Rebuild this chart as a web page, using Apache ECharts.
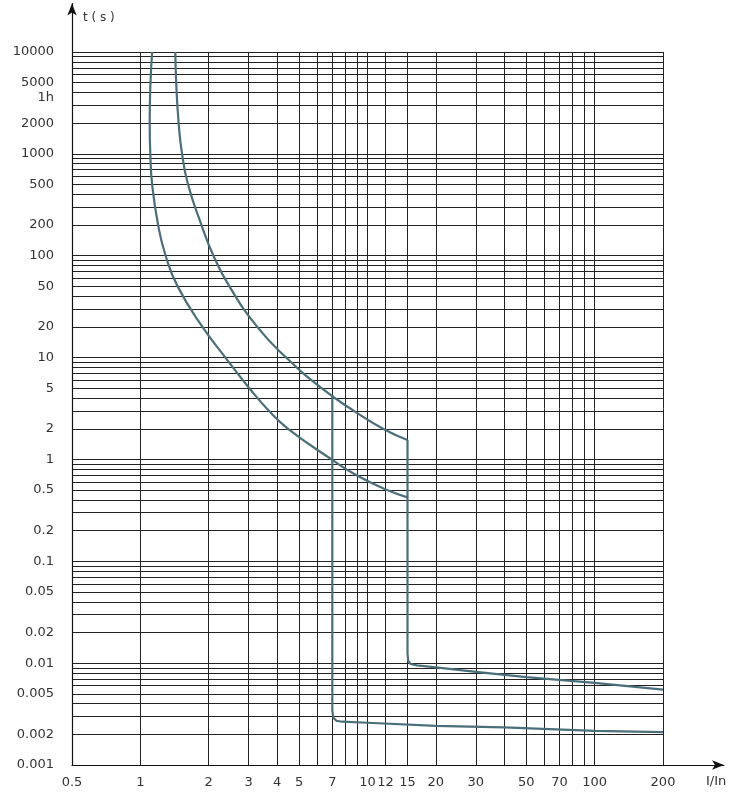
<!DOCTYPE html>
<html>
<head>
<meta charset="utf-8">
<style>
html,body{margin:0;padding:0;background:#fff;}
#chart{width:729px;height:794px;}
</style>
<script src="https://cdn.jsdelivr.net/npm/echarts@6/dist/echarts.min.js"></script>
</head>
<body>
<div id="chart"></div>
<script>
// ---- tick labels and grid positions ----
const xTickLabels = [0.5, 1, 2, 3, 4, 5, 7, 10, 12, 15, 20, 30, 50, 70, 100, 200];
const xGridValues = [0.5, 1, 2, 3, 4, 5, 6, 7, 8, 9, 10, 12, 15, 20, 30, 40, 50, 60, 70, 80, 90, 100, 200];
const yTickLabels = [10000, 5000, 3600, 2000, 1000, 500, 200, 100, 50, 20, 10, 5, 2, 1,
  0.5, 0.2, 0.1, 0.05, 0.02, 0.01, 0.005, 0.002, 0.001];
const yGridValues = [
  0.001, 0.002, 0.003, 0.004, 0.005, 0.006, 0.007, 0.008, 0.009,
  0.01, 0.02, 0.03, 0.04, 0.05, 0.06, 0.07, 0.08, 0.09,
  0.1, 0.2, 0.3, 0.4, 0.5, 0.6, 0.7, 0.8, 0.9,
  1, 2, 3, 4, 5, 6, 7, 8, 9,
  10, 20, 30, 40, 50, 60, 70, 80, 90,
  100, 200, 300, 400, 500, 600, 700, 800, 900,
  1000, 2000, 3000, 4000, 5000, 6000, 7000, 8000, 9000,
  10000
];

// ---- curves (I/In, t in s) ----
const upperThermalI = [1.425, 1.438, 1.474, 1.526, 1.622, 1.858, 2.098, 2.466, 3.27, 4.385, 6.28, 8.71, 11.7, 15];
const upperThermalT = [10000, 5000, 2000, 1000, 500, 200, 100, 50, 20, 10, 5, 3, 2, 1.55];

const lowerThermalI = [1.127, 1.108, 1.099, 1.106, 1.127, 1.197, 1.292, 1.459, 1.877, 2.368, 3.018, 3.68, 4.47, 6.95, 8.95, 12.2, 15];
const lowerThermalT = [10000, 5000, 2000, 1000, 500, 200, 100, 50, 20, 10, 5, 3, 2, 1, 0.7, 0.5, 0.424];

const upperTripI = [15, 15, 15.1, 15.5, 16.5, 20, 30, 50, 100, 200];
const upperTripT = [1.55, 0.0125, 0.0106, 0.0098, 0.0095, 0.0091, 0.0082, 0.0073, 0.0064, 0.0055];

const lowerTripI = [7, 7, 7.08, 7.3, 7.73, 10, 20, 40, 100, 200];
const lowerTripT = [4.3, 0.0034, 0.0029, 0.00272, 0.00266, 0.0026, 0.00242, 0.00234, 0.00216, 0.0021];

function pairs(xs, ys) { return xs.map((x, i) => [x, ys[i]]); }

const curveColor = '#4b6f7a';
const gridColor = '#222222';
const textColor = '#333333';
const font = 'DejaVu Sans';

function curve(name, xs, ys, smooth) {
  return {
    name: name, type: 'line', xAxisIndex: 0, yAxisIndex: 0,
    data: pairs(xs, ys), smooth: smooth, symbol: 'none',
    lineStyle: { color: curveColor, width: 2.2 }, z: 5
  };
}

const chart = echarts.init(document.getElementById('chart'), null, { renderer: 'canvas' });
chart.setOption({
  animation: false,
  backgroundColor: '#ffffff',
  textStyle: { fontFamily: font },
  grid: [
    { left: 72, top: 52, width: 591, height: 713, containLabel: false, outerBoundsMode: 'none' },
    { left: 72, top: 3.5, right: 5, bottom: 29, containLabel: false, outerBoundsMode: 'none' }
  ],
  xAxis: [
    {
      type: 'log', logBase: 10, gridIndex: 0, min: 0.5, max: 200,
      axisLine: { show: false },
      axisTick: { show: false, customValues: xGridValues },
      axisLabel: {
        customValues: xTickLabels, margin: 11, fontSize: 13, color: textColor, fontFamily: font,
        formatter: function (v) { return String(v); }
      },
      splitLine: { show: true, lineStyle: { color: gridColor, width: 1 } },
      minorTick: { show: false }, minorSplitLine: { show: false }
    },
    {
      type: 'value', gridIndex: 1, min: 0, max: 1,
      axisLine: { show: true, symbol: ['none', 'arrow'], symbolSize: [7, 12], lineStyle: { color: '#111', width: 1.2 } },
      axisTick: { show: false }, axisLabel: { show: false }, splitLine: { show: false },
      name: 'I/In', nameLocation: 'end', nameGap: -18,
      nameTextStyle: { align: 'left', verticalAlign: 'top', padding: [10, 0, 0, 0], fontSize: 13, color: textColor, fontFamily: font }
    }
  ],
  yAxis: [
    {
      type: 'log', logBase: 10, gridIndex: 0, min: 0.001, max: 10000,
      axisLine: { show: false },
      axisTick: { show: false, customValues: yGridValues },
      axisLabel: {
        customValues: yTickLabels, margin: 18, fontSize: 13, color: textColor, fontFamily: font,
        formatter: function (v) { return v === 3600 ? '1h' : String(v); }
      },
      splitLine: { show: true, lineStyle: { color: gridColor, width: 1 } },
      minorTick: { show: false }, minorSplitLine: { show: false }
    },
    {
      type: 'value', gridIndex: 1, min: 0, max: 1,
      axisLine: { show: true, symbol: ['none', 'arrow'], symbolSize: [7, 12], lineStyle: { color: '#111', width: 1.2 } },
      axisTick: { show: false }, axisLabel: { show: false }, splitLine: { show: false },
      name: 't ( s )', nameLocation: 'end', nameGap: -14.5,
      nameTextStyle: { align: 'left', verticalAlign: 'middle', padding: [0, 0, 0, 11], fontSize: 12, color: textColor, fontFamily: font }
    }
  ],
  series: [
    curve('upper thermal', upperThermalI, upperThermalT, 0.5),
    curve('upper magnetic', upperTripI, upperTripT, false),
    curve('lower thermal', lowerThermalI, lowerThermalT, 0.5),
    curve('lower magnetic', lowerTripI, lowerTripT, false)
  ]
});
</script>
</body>
</html>
